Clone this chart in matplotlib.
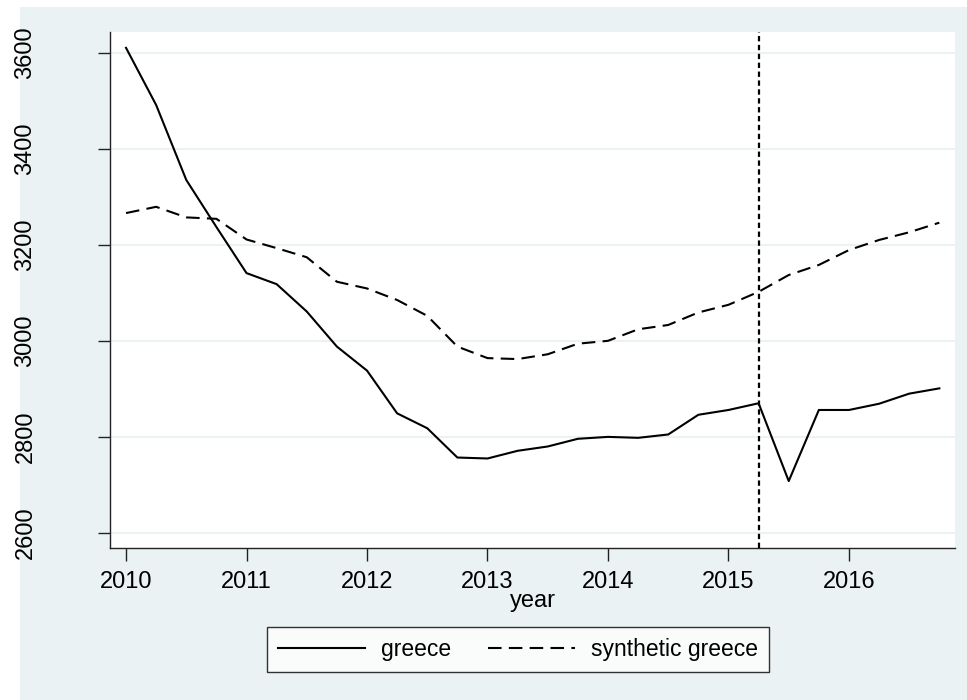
import matplotlib
matplotlib.use('Agg')
import matplotlib.pyplot as plt
from matplotlib.patches import Rectangle

# ---------------------------------------------------------------------------
# Data (quarterly)
# ---------------------------------------------------------------------------
years = [2010 + 0.25 * i for i in range(28)]

greece = [3610, 3491, 3335, 3237, 3141, 3118, 3061, 2988,
          2938, 2849, 2818, 2757, 2755, 2771, 2780, 2796,
          2800, 2798, 2805, 2846, 2856, 2870, 2708, 2856,
          2856, 2869, 2890, 2901]

synthetic = [3266, 3279, 3257, 3254, 3211, 3193, 3174, 3123,
             3109, 3085, 3052, 2988, 2964, 2962, 2972, 2994,
             3000, 3024, 3033, 3059, 3075, 3102, 3137, 3158,
             3189, 3210, 3226, 3246]

treatment_year = 2015.25
x_ticks = [2010, 2011, 2012, 2013, 2014, 2015, 2016]
y_ticks = [2600, 2800, 3000, 3200, 3400, 3600]

# ---------------------------------------------------------------------------
# Plot
# ---------------------------------------------------------------------------
plt.rcParams['font.family'] = ['Liberation Sans', 'DejaVu Sans']
bg = '#eaf2f3'

fig = plt.figure(figsize=(9.67, 7.0), dpi=100)
fig.patch.set_facecolor('white')
fig.patches.append(Rectangle((20 / 967, 0), 1 - 20 / 967, 1 - 7 / 700,
                             transform=fig.transFigure, facecolor=bg,
                             edgecolor='none', zorder=-10))

ax = fig.add_axes([110 / 967, 1 - 548.3 / 700, 845 / 967, 516.3 / 700])
ax.set_facecolor('white')

ax.plot(years, greece, color='black', lw=1.5, label='greece')
ax.plot(years, synthetic, color='black', lw=1.5, dashes=(6.5, 3.5),
        label='synthetic greece')
ax.axvline(treatment_year, color='black', lw=1.6, dashes=(2.4, 1.6))

ax.set_xlim(2009.867, 2016.88)
ax.set_ylim(2568, 3643)
ax.set_xticks(x_ticks)
ax.set_yticks(y_ticks)
ax.set_yticklabels([str(v) for v in y_ticks], rotation=90, va='center')

ax.grid(axis='y', color=bg, lw=1.5)
ax.set_axisbelow(True)
for side in ('top', 'right'):
    ax.spines[side].set_visible(False)
for side in ('left', 'bottom'):
    ax.spines[side].set_color('#222222')
    ax.spines[side].set_linewidth(1.0)

ax.tick_params(axis='x', length=9, width=1, pad=7, labelsize=17, color='#222222')
ax.tick_params(axis='y', length=9, width=1, pad=44, labelsize=17, color='#222222')
ax.set_xlabel('year', fontsize=17, labelpad=-2)

leg = fig.legend(loc='center', bbox_to_anchor=(518 / 967, 1 - 649.5 / 700),
                 ncol=2, fontsize=16.5, frameon=True, fancybox=False,
                 edgecolor='black', handlelength=3.8, columnspacing=1.6,
                 borderpad=0.5, handletextpad=0.7)
leg.get_frame().set_linewidth(1.0)
leg.get_frame().set_facecolor('white')

fig.savefig('out.png', dpi=100)
